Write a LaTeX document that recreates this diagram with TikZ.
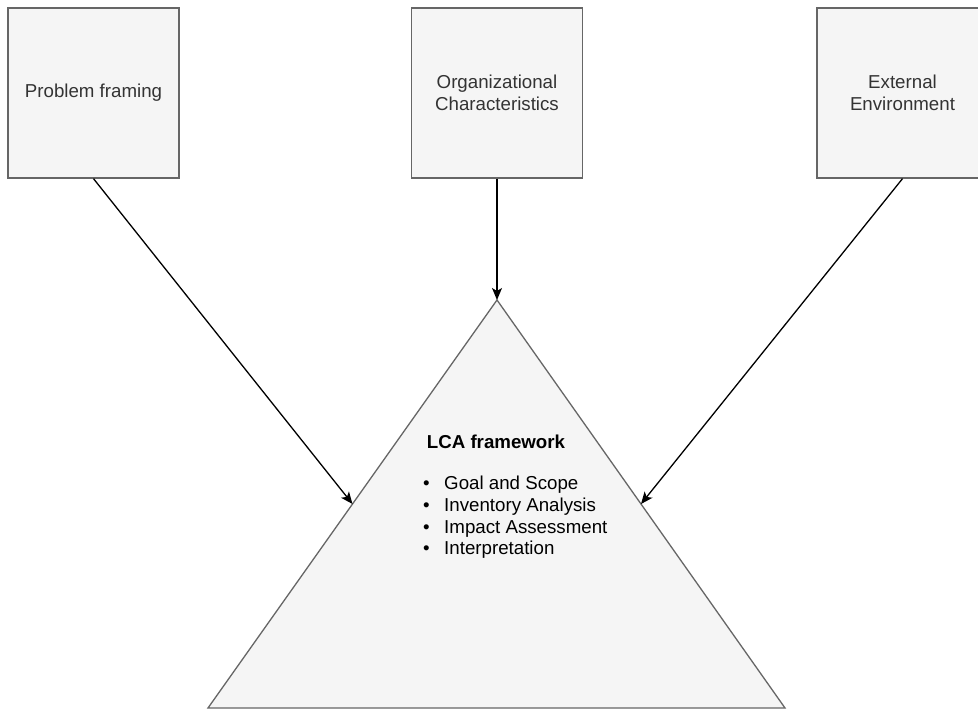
\documentclass[tikz,border=0pt]{standalone}
\usepackage{fontspec}
\setmainfont{Liberation Sans}
\usetikzlibrary{arrows.meta,calc}
\definecolor{boxfill}{HTML}{F5F5F5}
\definecolor{boxline}{HTML}{666666}
\definecolor{boxtext}{HTML}{333333}
\begin{document}
\begin{tikzpicture}[x=1pt,y=-1pt,
  inbox/.style={draw=boxline,fill=boxfill,line width=1.3pt,minimum width=171pt,minimum height=170pt,
    inner sep=0pt,text=boxtext,align=center,font=\fontsize{18.7}{22}\selectfont},
  conn/.style={line width=1.3pt,-{Stealth[length=12pt,width=10pt,inset=3pt]}}]
\useasboundingbox (0,0) rectangle (978,711);
\node[inbox] (pf) at (93.5,93) {Problem framing};
\node[inbox] (oc) at (497,93) {Organizational\\Characteristics};
\node[inbox] (ee) at (902.5,93) {External\\Environment};
\coordinate (apex) at (497,300);
\coordinate (bl) at (208,708);
\coordinate (br) at (785,708);
\draw[boxline,fill=boxfill,line width=1.3pt,line join=miter] (apex) -- (br) -- (bl) -- cycle;
\coordinate (lmid) at ($(apex)!0.5!(bl)$);
\coordinate (rmid) at ($(apex)!0.5!(br)$);
\node[font=\fontsize{18.7}{22}\selectfont\bfseries] (lca) at (496,442) {LCA framework};
\node[font=\fontsize{18.7}{21.8}\selectfont,anchor=north west,inner sep=0pt] (list) at (423,474)
  {\begin{tabular}{@{}l@{\hspace{14.5pt}}l@{}}
   • & Goal and Scope\\
   • & Inventory Analysis\\
   • & Impact Assessment\\
   • & Interpretation
   \end{tabular}};
\draw[conn] (pf.south) -- (lmid);
\draw[conn] (oc.south) -- (apex);
\draw[conn] (ee.south) -- (rmid);
\end{tikzpicture}
\end{document}
